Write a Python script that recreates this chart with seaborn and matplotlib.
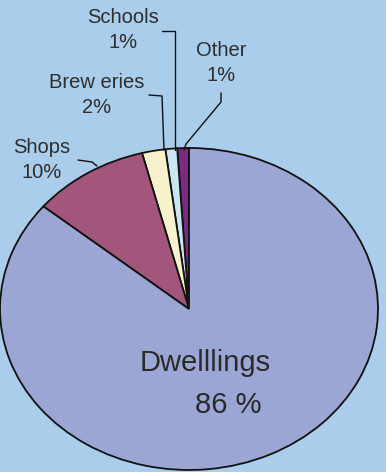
import matplotlib
matplotlib.use("Agg")
import matplotlib.pyplot as plt
import seaborn as sns

# Data
categories = ["Other", "Schools", "Breweries", "Shops", "Dwellings"]
values = [1, 1, 2, 10, 86]
label_texts = ["Other\n1%", "Schools\n1%", "Brew eries\n2%", "Shops\n10%", "Dwelllings\n86 %"]

colors = ["#7b2a7e", "#c9e6f2", "#f6f2cc", "#a3567b", "#9ba6d4"]
bg = "#a9cdea"

sns.set_theme(style="white")
plt.rcParams["font.family"] = ["Liberation Sans", "DejaVu Sans"]

W, H = 386, 472
fig = plt.figure(figsize=(W / 100, H / 100), dpi=100, facecolor=bg)

def px(x, y):
    return (x / W, 1 - y / H)

# ellipse bounding box in pixels
cx, cy, rx, ry = 189, 309, 189, 161
ax = fig.add_axes([(cx - rx) / W, (H - (cy + ry)) / H, 2 * rx / W, 2 * ry / H])
ax.set_facecolor("none")
ax.pie(values, colors=colors, startangle=90, counterclock=True, radius=1,
       wedgeprops=dict(edgecolor="#111111", linewidth=1.3))
ax.set_aspect("auto")
ax.set_xlim(-1, 1)
ax.set_ylim(-1, 1)
ax.axis("off")

tc = "#2e2e2e"
fs = 14.5
ls = 1.45
# small labels
fig.text(*px(123, 30), label_texts[1], ha="center", va="center", fontsize=fs, color=tc, linespacing=ls)
fig.text(*px(221, 63), label_texts[0], ha="center", va="center", fontsize=fs, color=tc, linespacing=ls)
fig.text(*px(97, 95), label_texts[2], ha="center", va="center", fontsize=fs, color=tc, linespacing=ls)
fig.text(*px(42, 160), label_texts[3], ha="center", va="center", fontsize=fs, color=tc, linespacing=ls)

# Dwellings label
fig.text(*px(205, 363), "Dwelllings", ha="center", va="center", fontsize=21, color="#2a2a2a")
fig.text(*px(228, 405), "86 %", ha="center", va="center", fontsize=21, color="#2a2a2a")

# leader lines
def leader(points):
    xs = [p[0] / W for p in points]
    ys = [1 - p[1] / H for p in points]
    fig.add_artist(plt.Line2D(xs, ys, color="#111111", linewidth=1.0, transform=fig.transFigure))

leader([(162, 31), (175, 31), (175, 150)])
leader([(149, 95), (162, 96), (164, 150)])
leader([(221, 93), (221, 102), (186, 144), (184, 150)])
leader([(78, 160), (92, 162), (97, 166)])

fig.savefig("out.png", dpi=100, facecolor=bg)
